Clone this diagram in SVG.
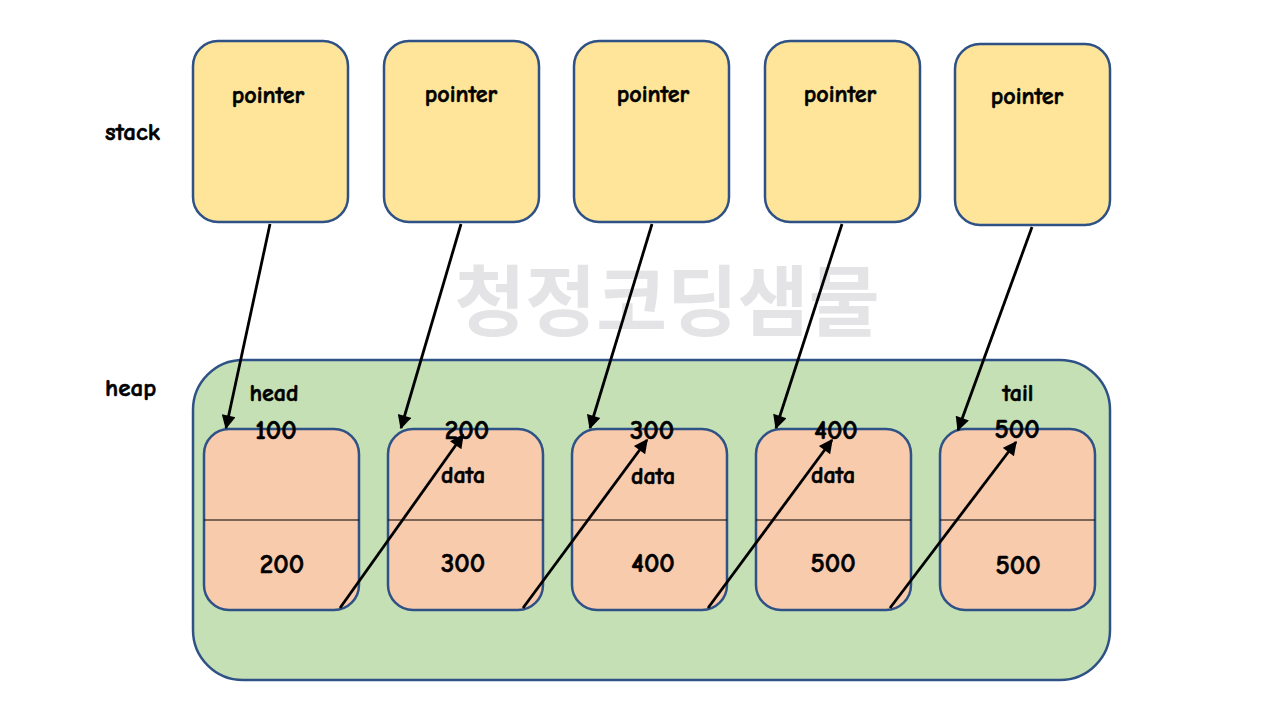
<svg xmlns="http://www.w3.org/2000/svg" width="1280" height="720" viewBox="0 0 1280 720">
<style>
.t{font-family:"Comic Neue","Liberation Sans","Noto Sans",sans-serif;font-weight:bold;fill:#000;stroke:#000;stroke-width:0.6}
.lbl{font-size:25px}
.num{font-size:27px;text-anchor:middle}
.sm{font-size:24px;text-anchor:middle}
.stk{fill:#FFE599;stroke:#2F5286;stroke-width:2.5}
.nd{fill:#F8CBAD;stroke:#2F5286;stroke-width:2.5}
.cn{stroke:#000;stroke-width:2.8;fill:none;marker-end:url(#ah)}
</style>
<defs>
<marker id="ah" viewBox="0 0 10 10" refX="9" refY="5" markerWidth="5.5" markerHeight="5" orient="auto" markerUnits="strokeWidth">
<path d="M0,0 L10,5 L0,10 z" fill="#000"/>
</marker>
</defs>
<rect width="1280" height="720" fill="#fff"/>
<text x="667" y="330" font-family="'Noto Sans CJK KR',sans-serif" font-weight="bold" font-size="77" fill="#E4E4E6" text-anchor="middle">청정코딩샘물</text>
<text class="t lbl" x="105" y="140">stack</text>
<text class="t lbl" x="105" y="396">heap</text>
<g id="stack1"><rect class="stk" x="193" y="41" width="155" height="181" rx="25"/><text class="t sm" x="268" y="103">pointer</text></g>
<g id="stack2"><rect class="stk" x="384" y="41" width="155" height="181" rx="25"/><text class="t sm" x="461" y="102">pointer</text></g>
<g id="stack3"><rect class="stk" x="574" y="41" width="155" height="181" rx="25"/><text class="t sm" x="653" y="102">pointer</text></g>
<g id="stack4"><rect class="stk" x="765" y="41" width="155" height="181" rx="25"/><text class="t sm" x="840" y="102">pointer</text></g>
<g id="stack5"><rect class="stk" x="955" y="44" width="155" height="181" rx="25"/><text class="t sm" x="1027" y="104">pointer</text></g>
<g id="heap"><rect x="193" y="360" width="917" height="320" rx="50" fill="#C5E0B4" stroke="#2F5286" stroke-width="2.5"/>
<text class="t sm" x="274" y="401">head</text><text class="t sm" x="1018" y="401">tail</text></g>
<g id="node100"><rect class="nd" x="204" y="429" width="155" height="181" rx="25"/><line x1="204" y1="520" x2="359" y2="520" stroke="#000" stroke-width="1.2"/><text class="t num" x="276" y="439">100</text><text class="t num" x="282" y="573">200</text></g>
<g id="node200"><rect class="nd" x="388" y="429" width="155" height="181" rx="25"/><line x1="388" y1="520" x2="543" y2="520" stroke="#000" stroke-width="1.2"/><text class="t num" x="467" y="439">200</text><text class="t sm" x="463" y="483">data</text><text class="t num" x="463" y="572">300</text></g>
<g id="node300"><rect class="nd" x="572" y="429" width="155" height="181" rx="25"/><line x1="572" y1="520" x2="727" y2="520" stroke="#000" stroke-width="1.2"/><text class="t num" x="652" y="439">300</text><text class="t sm" x="653" y="484">data</text><text class="t num" x="653" y="572">400</text></g>
<g id="node400"><rect class="nd" x="756" y="429" width="155" height="181" rx="25"/><line x1="756" y1="520" x2="911" y2="520" stroke="#000" stroke-width="1.2"/><text class="t num" x="836" y="439">400</text><text class="t sm" x="833" y="483">data</text><text class="t num" x="833" y="572">500</text></g>
<g id="node500"><rect class="nd" x="940" y="429" width="155" height="181" rx="25"/><line x1="940" y1="520" x2="1095" y2="520" stroke="#000" stroke-width="1.2"/><text class="t num" x="1017" y="438">500</text><text class="t num" x="1018" y="574">500</text></g>
<g id="connectors">
<line class="cn" x1="270" y1="224" x2="226" y2="428"/>
<line class="cn" x1="461" y1="224" x2="401" y2="428"/>
<line class="cn" x1="652" y1="224" x2="590" y2="428"/>
<line class="cn" x1="842" y1="224" x2="776" y2="428"/>
<line class="cn" x1="1032" y1="227" x2="958" y2="430"/>
<line class="cn" x1="340" y1="608" x2="463" y2="435"/>
<line class="cn" x1="523" y1="608" x2="647" y2="440"/>
<line class="cn" x1="708" y1="608" x2="832" y2="440"/>
<line class="cn" x1="890" y1="608" x2="1016" y2="442"/>
</g>
</svg>
